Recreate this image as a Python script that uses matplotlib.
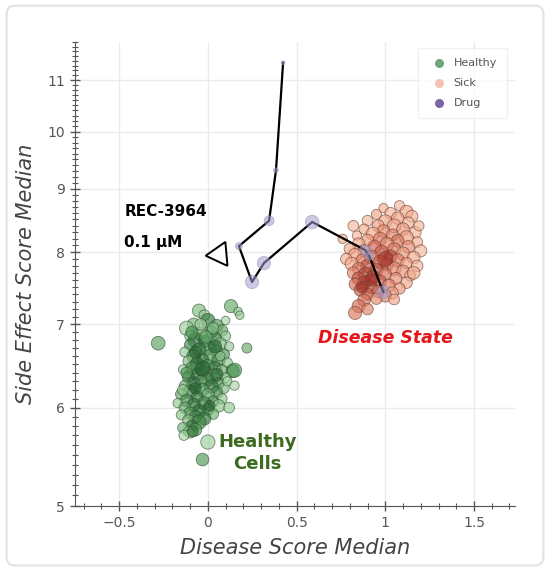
import numpy as np
import matplotlib
matplotlib.use("Agg")
import matplotlib.pyplot as plt
from matplotlib import ticker
from matplotlib.colors import LinearSegmentedColormap
from matplotlib.patches import FancyBboxPatch

# healthy cells: x, y, marker size, shade (0 light .. 1 dark)
healthy_x = [-0.05, -0.02, 0.0, -0.08, 0.05, -0.12, 0.08, 0.02, -0.04, -0.1, 0.1, 0.04, -0.07, -0.02,
             0.07, -0.1, 0.12, 0.0, -0.05, 0.05, -0.13, 0.09, -0.08, 0.02, -0.03, 0.06, -0.11, 0.11,
             -0.06, 0.0, 0.04, -0.09, -0.14, 0.08, 0.14, -0.02, -0.06, 0.03, -0.11, 0.1, 0.0, -0.04,
             0.06, -0.08, -0.13, 0.02, 0.09, -0.03, -0.1, 0.05, -0.15, 0.0, -0.06, 0.08, -0.12, 0.03,
             -0.02, -0.17, -0.08, 0.06, -0.13, 0.0, -0.05, -0.1, 0.03, -0.15, -0.07, -0.02, -0.11, -0.05,
             -0.09, -0.14, -0.07, -0.11, -0.1,
             -0.09, 0.03, -0.01, 0.07, -0.12, 0.05, -0.07, 0.01, -0.03, -0.07, 0.04, -0.14, 0.11, 0.12,
             0.15, -0.04, 0.1,
             -0.28, 0.13, 0.17, 0.18, 0.22, 0.15, -0.135, 0.0, -0.03, -0.085]
healthy_y = [7.18, 7.12, 7.05, 7.0, 6.98, 6.95, 6.92, 6.9, 6.88, 6.85, 6.85, 6.82, 6.8, 6.78,
             6.75, 6.74, 6.72, 6.7, 6.68, 6.66, 6.65, 6.62, 6.6, 6.6, 6.56, 6.55, 6.54, 6.52,
             6.5, 6.48, 6.46, 6.45, 6.44, 6.43, 6.42, 6.4, 6.38, 6.36, 6.35, 6.34, 6.32, 6.3,
             6.28, 6.27, 6.25, 6.24, 6.22, 6.2, 6.18, 6.17, 6.15, 6.14, 6.12, 6.1, 6.08, 6.07,
             6.05, 6.05, 6.03, 6.02, 6.0, 5.98, 5.96, 5.94, 5.93, 5.92, 5.9, 5.88, 5.86, 5.84,
             5.8, 5.78, 5.76, 5.74, 5.72,
             6.9, 6.95, 6.84, 6.6, 6.4, 6.38, 6.22, 6.02, 6.45, 6.65, 6.72, 6.2, 6.3, 6.0,
             6.25, 7.0, 7.05,
             6.76, 7.24, 7.17, 7.12, 6.7, 6.43, 5.7, 5.63, 5.45, 5.74]
healthy_s = [60, 40, 70, 55, 60, 70, 45, 50, 65, 40, 35, 60, 75, 50,
             55, 45, 30, 70, 60, 50, 35, 45, 65, 75, 50, 60, 40, 35,
             70, 60, 55, 60, 30, 45, 60, 65, 55, 70, 50, 35, 60, 50,
             45, 70, 40, 65, 40, 55, 65, 50, 45, 60, 50, 35, 55, 45,
             60, 30, 60, 55, 45, 50, 65, 50, 40, 35, 55, 60, 45, 70,
             50, 40, 55, 35, 30,
             50, 45, 55, 30, 45, 55, 45, 40, 80, 50, 60, 40, 30, 40,
             30, 45, 25,
             65, 60, 25, 25, 35, 70, 35, 70, 55, 40]
healthy_shade = [0.4, 0.3, 0.8, 0.45, 0.6, 0.25, 0.5, 0.7, 0.55, 0.35, 0.3, 0.75, 0.85, 0.9,
                 0.4, 0.7, 0.3, 0.65, 0.8, 0.5, 0.3, 0.6, 0.75, 0.55, 0.85, 0.7, 0.4, 0.35,
                 0.9, 0.6, 0.8, 0.65, 0.25, 0.5, 0.6, 0.7, 0.85, 0.45, 0.8, 0.3, 0.75, 0.55,
                 0.65, 0.9, 0.5, 0.85, 0.4, 0.6, 0.75, 0.7, 0.55, 0.5, 0.8, 0.3, 0.65, 0.6,
                 0.75, 0.3, 0.85, 0.35, 0.5, 0.7, 0.9, 0.6, 0.45, 0.35, 0.75, 0.8, 0.4, 0.7,
                 0.85, 0.45, 0.6, 0.35, 0.3,
                 0.6, 0.35, 0.5, 0.25, 0.6, 0.9, 0.95, 0.9, 0.95, 0.95, 0.9, 0.3, 0.25, 0.3,
                 0.2, 0.25, 0.2,
                 0.55, 0.5, 0.3, 0.3, 0.5, 0.6, 0.2, 0.25, 0.6, 0.8]

# sick cells
sick_x = [1.08, 0.99, 1.12, 1.03, 0.95, 1.15, 1.07, 0.9, 1.0, 1.13, 0.96, 1.05, 0.88, 1.1,
          1.17, 0.99, 0.93, 1.04, 0.84, 1.12,
          0.97, 0.9, 1.07, 1.18, 0.85, 1.01, 0.94, 1.13, 0.8, 1.05, 0.88, 1.2, 0.98, 1.1,
          0.83, 1.03, 0.92, 1.16, 0.78, 0.87, 1.07, 0.97, 1.12, 0.81, 1.01, 0.9, 1.18, 1.05, 0.85,
          0.95, 1.1, 0.82, 0.89, 1.0, 1.14, 0.93, 0.85, 1.06, 0.97, 0.88, 1.12, 0.83, 1.02,
          0.92, 1.08, 0.86, 0.96, 1.04, 0.9, 1.0, 0.95, 0.88, 1.05, 0.85, 0.9, 0.83,
          1.0, 0.92, 0.87, 0.76, 1.19, 1.16, 0.82]
sick_y = [8.72, 8.68, 8.62, 8.6, 8.58, 8.55, 8.52, 8.48, 8.47, 8.45, 8.4, 8.4, 8.35, 8.35,
          8.3, 8.32, 8.28, 8.26, 8.25, 8.22,
          8.2, 8.18, 8.17, 8.15, 8.12, 8.12, 8.08, 8.08, 8.05, 8.04, 8.02, 8.02, 8.0, 7.98,
          7.96, 7.94, 7.93, 7.92, 7.9, 7.88, 7.88, 7.86, 7.84, 7.83, 7.82, 7.8, 7.8, 7.76, 7.76,
          7.74, 7.72, 7.7, 7.68, 7.68, 7.66, 7.64, 7.62, 7.62, 7.58, 7.56, 7.56, 7.54, 7.52,
          7.5, 7.48, 7.46, 7.44, 7.42, 7.4, 7.38, 7.34, 7.32, 7.33, 7.24, 7.2, 7.15,
          7.9, 7.6, 7.5, 8.2, 8.4, 7.7, 8.4]
sick_s = [35, 30, 60, 45, 35, 50, 55, 40, 60, 45, 50, 65, 35, 55,
          45, 55, 60, 50, 30, 65,
          60, 50, 55, 40, 55, 65, 60, 55, 45, 60, 55, 50, 65, 60,
          60, 55, 65, 55, 45, 55, 60, 60, 45, 60, 55, 65, 45, 65, 55,
          60, 55, 50, 70, 55, 40, 65, 60, 50, 55, 65, 45, 50, 60,
          60, 45, 55, 55, 50, 50, 55, 45, 55, 40, 60, 45, 60,
          80, 50, 45, 30, 35, 55, 40]
sick_shade = [0.2, 0.25, 0.3, 0.2, 0.3, 0.25, 0.35, 0.2, 0.3, 0.2, 0.35, 0.3, 0.25, 0.4,
              0.2, 0.45, 0.3, 0.5, 0.2, 0.35,
              0.55, 0.4, 0.6, 0.25, 0.3, 0.5, 0.65, 0.45, 0.3, 0.55, 0.5, 0.2, 0.7, 0.4,
              0.35, 0.85, 0.6, 0.3, 0.25, 0.5, 0.55, 0.65, 0.35, 0.3, 0.7, 0.75, 0.2, 0.5, 0.6,
              0.8, 0.4, 0.45, 0.85, 0.6, 0.25, 0.9, 0.75, 0.45, 0.7, 0.9, 0.3, 0.6, 0.55,
              0.85, 0.4, 0.75, 0.65, 0.35, 0.7, 0.5, 0.45, 0.6, 0.3, 0.6, 0.5, 0.55,
              0.95, 0.95, 0.95, 0.25, 0.2, 0.3, 0.2]

# drug trajectory (REC-3964)
drug_x = [0.424, 0.384, 0.345, 0.175, 0.249, 0.316, 0.588, 0.887, 0.91, 0.989]
drug_y = [11.36, 9.31, 8.48, 8.09, 7.57, 7.84, 8.46, 8.03, 7.94, 7.43]
drug_s = [8, 12, 50, 25, 90, 90, 95, 60, 35, 85]

start_marker = (0.062, 7.97)

fig = plt.figure(figsize=(5.5, 5.7), dpi=100)
fig.patches.append(FancyBboxPatch((0.012, 0.008), 0.976, 0.982, boxstyle="round,pad=0,rounding_size=0.015",
                                  transform=fig.transFigure, facecolor="white",
                                  edgecolor="#e2e2e2", linewidth=1.5, zorder=-10))
ax = fig.add_axes([0.136, 0.112, 0.8, 0.814])
ax.set_facecolor("none")

greens = LinearSegmentedColormap.from_list("g", ["#cfeac8", "#8cc68a", "#3f8a48", "#1f5a2a"])
reds = LinearSegmentedColormap.from_list("r", ["#fad3bf", "#f0a282", "#d0604a", "#9c2a22"])
green_c = greens(np.array(healthy_shade))
red_c = reds(np.array(sick_shade))

size_scale = 1.5
ax.scatter(healthy_x, healthy_y, s=np.array(healthy_s) * size_scale, c=green_c, alpha=0.65,
           edgecolors="#2e4a30", linewidths=0.6, zorder=3)
ax.scatter(sick_x, sick_y, s=np.array(sick_s) * size_scale, c=red_c, alpha=0.65,
           edgecolors="#6a3a30", linewidths=0.6, zorder=3)
ax.plot(drug_x, drug_y, color="black", lw=1.6, zorder=4)
ax.scatter(drug_x, drug_y, s=drug_s, c="#a49cd0", alpha=0.55,
           edgecolors="#8a86a8", linewidths=0.6, zorder=5)
ax.plot(*start_marker, marker=(3, 0, 95), ms=20, mfc="white", mec="black", mew=1.4, zorder=6)

# legend
ax.scatter([], [], s=30, c="#6fa67c", label="Healthy")
ax.scatter([], [], s=30, c="#f3c4b4", label="Sick")
ax.scatter([], [], s=30, c="#7a66a6", label="Drug")
leg = ax.legend(loc="upper right", fontsize=8, frameon=True, handletextpad=0.3,
                borderpad=0.9, labelspacing=0.9, bbox_to_anchor=(0.995, 1.0))
leg.get_frame().set_edgecolor("#eeeeee")
leg.get_frame().set_boxstyle("square", pad=0)
for t in leg.get_texts():
    t.set_color("#555555")

ax.text(-0.47, 8.62, "REC-3964", fontsize=11, fontweight="bold", ha="left", va="center")
ax.text(-0.47, 8.14, "0.1 \u00b5M", fontsize=11, fontweight="bold", ha="left", va="center")
ax.text(1.0, 6.83, "Disease State", fontsize=12.5, fontweight="bold", style="italic",
        color="#e3161b", ha="center", va="center")
ax.text(0.28, 5.52, "Healthy\nCells", fontsize=13, fontweight="bold", color="#3c6a1e",
        ha="center", va="center", linespacing=1.3)

ax.set_yscale("log")
ax.set_xlim(-0.75, 1.73)
ax.set_ylim(5, 11.8)
ax.yaxis.set_major_locator(ticker.FixedLocator([5, 6, 7, 8, 9, 10, 11]))
ax.yaxis.set_major_formatter(ticker.FuncFormatter(lambda v, p: "%d" % v))
ax.yaxis.set_minor_locator(ticker.MultipleLocator(0.1))
ax.yaxis.set_minor_formatter(ticker.NullFormatter())
ax.xaxis.set_major_locator(ticker.MultipleLocator(0.5))
ax.xaxis.set_minor_locator(ticker.MultipleLocator(0.1))
ax.xaxis.set_major_formatter(ticker.FuncFormatter(lambda v, p: ("%g" % v).replace("-", "\u2212")))

ax.grid(True, which="major", color="#ebebeb", lw=1)
ax.set_axisbelow(True)
for sp in ["top", "right"]:
    ax.spines[sp].set_visible(False)
for sp in ["left", "bottom"]:
    ax.spines[sp].set_color("#555555")
ax.tick_params(which="major", direction="inout", length=7, width=1, color="#555555",
               labelsize=10, labelcolor="#555555")
ax.tick_params(which="minor", direction="inout", length=4, width=0.8, color="#555555")

ax.set_xlabel("Disease Score Median", fontsize=15, style="italic", color="#444444", labelpad=6)
ax.set_ylabel("Side Effect Score Median", fontsize=15, style="italic", color="#444444", labelpad=8)

fig.savefig("out.png", dpi=100)
